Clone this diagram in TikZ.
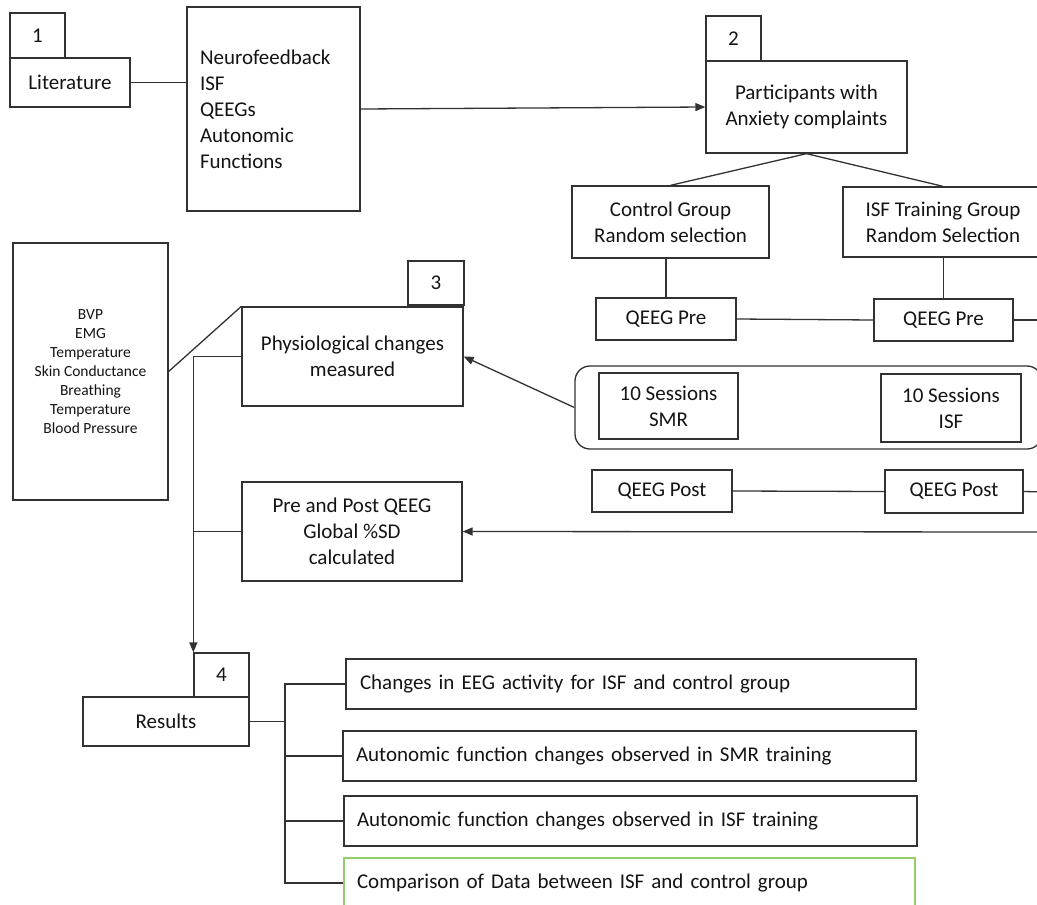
\documentclass[tikz,border=0pt]{standalone}
\usepackage{fontspec}
\setmainfont{Carlito}
\usetikzlibrary{arrows.meta}
\definecolor{lc}{RGB}{50,50,50}
\definecolor{tc}{RGB}{20,20,20}
\definecolor{gc}{RGB}{146,206,106}
\begin{document}
\begin{tikzpicture}[x=1pt,y=-1pt,
  box/.style={draw=lc, line width=1.3pt, inner sep=0pt, align=center, text=tc, font=\fontsize{21}{26}\selectfont},
  smalltext/.style={font=\fontsize{15.5}{19}\selectfont},
  conn/.style={draw=lc, line width=1.3pt},
  arr/.style={conn, -{Triangle[length=10pt,width=8pt]}}]
\useasboundingbox (0,0) rectangle (1037,905);
\fill[white] (0,0) rectangle (1037,905);

% stage 1
\node[box, minimum width=55pt, minimum height=45pt] (n1) at (37.5,35.5) {1};
\node[box, minimum width=120pt, minimum height=49pt] (lit) at (70,82.5) {Literature};
\node[box, minimum width=173pt, minimum height=204pt, text width=147pt, align=left] (neuro) at (273.5,109)
  {Neurofeedback\\ISF\\QEEGs\\Autonomic\\Functions};

% stage 2
\node[box, minimum width=55pt, minimum height=45pt] (n2) at (733.5,38.5) {2};
\node[box, minimum width=201pt, minimum height=92pt] (part) at (806.5,107) {Participants with\\Anxiety complaints};
\node[box, minimum width=197pt, minimum height=72pt] (ctrl) at (670.5,222) {Control Group\\Random selection};
\node[box, minimum width=200pt, minimum height=70pt] (isf) at (943,222) {ISF Training Group\\Random Selection};
\node[box, minimum width=140pt, minimum height=42pt] (pre1) at (666,319) {QEEG Pre};
\node[box, minimum width=139pt, minimum height=42pt] (pre2) at (943.5,320) {QEEG Pre};
\node[box, rounded corners=15pt, minimum width=467pt, minimum height=83pt] (rbox) at (808.5,407.5) {};
\node[box, minimum width=139pt, minimum height=66pt] (smr) at (668.5,406) {10 Sessions\\SMR};
\node[box, minimum width=140pt, minimum height=68pt] (isfs) at (951,408) {10 Sessions\\ISF};
\node[box, minimum width=140pt, minimum height=42pt] (post1) at (662,491) {QEEG Post};
\node[box, minimum width=138pt, minimum height=43pt] (post2) at (954,491.5) {QEEG Post};

% stage 3
\node[box, smalltext, minimum width=155pt, minimum height=257pt] (bvp) at (90.5,371.5)
  {BVP\\EMG\\Temperature\\Skin Conductance\\Breathing\\Temperature\\Blood Pressure};
\node[box, minimum width=56pt, minimum height=44pt] (n3) at (436,283) {3};
\node[box, minimum width=221pt, minimum height=99pt] (phys) at (352.5,356.5) {Physiological changes\\measured};
\node[box, minimum width=220pt, minimum height=99pt] (prepost) at (352,531.5) {Pre and Post QEEG\\Global \%SD\\calculated};

% stage 4
\node[box, minimum width=55pt, minimum height=44pt] (n4) at (221.5,675) {4};
\node[box, minimum width=166pt, minimum height=49pt] (res) at (166,721.5) {Results};
\node[box, minimum width=570pt, minimum height=50pt, text width=542pt, align=left] (bA) at (631,684)
  {Changes in EEG activity for ISF and control group};
\node[box, minimum width=573pt, minimum height=50pt, text width=547pt, align=left] (bB) at (629.5,756)
  {Autonomic function changes observed in SMR training};
\node[box, minimum width=573pt, minimum height=50pt, text width=547pt, align=left] (bC) at (630.5,821)
  {Autonomic function changes observed in ISF training};
\node[box, draw=gc, minimum width=571pt, minimum height=50pt, text width=545pt, align=left] (bD) at (629.5,883)
  {Comparison of Data between ISF and control group};

% free ends at the right edge
\coordinate (eR1) at (1045,320);
\coordinate (eR2) at (1045,492);
\coordinate (eR3) at (1045,532);
\coordinate (br) at (285,721.5);

% connectors
\draw[conn] (lit.east) -- (lit.east -| neuro.west);
\draw[arr] (neuro.east) -- (part.west);
\draw[conn] (part.south) -- (ctrl.north);
\draw[conn] (part.south) -- (isf.north);
\draw[conn] (pre1.north) -- (pre1.north |- ctrl.south);
\draw[conn] (pre2.north) -- (pre2.north |- isf.south);
\draw[conn] (pre1.east) -- (pre2.west);
\draw[conn] (pre2.east) -- (eR1);
\draw[conn] (post1.east) -- (post2.west);
\draw[conn] (post2.east) -- (eR2);
\draw[arr] (eR3) -- (prepost.east);
\draw[arr] (rbox.west) -- (phys.east);
\draw[conn] (bvp.east) -- (phys.north west);
\draw[arr] (phys.west) -| (n4.north west);
\draw[conn] (prepost.west) -- (prepost.west -| n4.north west);
\draw[conn] (res.east) -- (br);
\draw[conn] (bA.west) -- (bA.west -| br) -- (bD.west -| br) -- (bD.west);
\draw[conn] (bB.west) -- (bB.west -| br);
\draw[conn] (bC.west) -- (bC.west -| br);
\end{tikzpicture}
\end{document}
